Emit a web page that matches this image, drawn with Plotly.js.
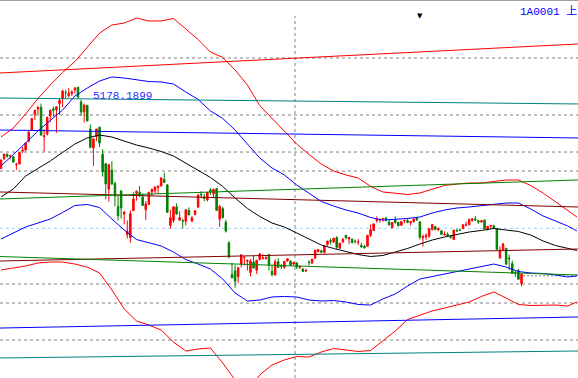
<!DOCTYPE html>
<html><head><meta charset="utf-8">
<script src="https://cdn.plot.ly/plotly-3.0.1.min.js"></script>
<style>html,body{margin:0;padding:0;background:#fff;overflow:hidden}#chart{width:578px;height:378px}</style>
</head><body><div id="chart"></div>
<script>
// Trading days (categories)
const dates = [
"2015-05-11","2015-05-12","2015-05-13","2015-05-14","2015-05-15","2015-05-18","2015-05-19","2015-05-20","2015-05-21","2015-05-22","2015-05-25","2015-05-26","2015-05-27","2015-05-28","2015-05-29",
"2015-06-01","2015-06-02","2015-06-03","2015-06-04","2015-06-05","2015-06-08","2015-06-09","2015-06-10","2015-06-11","2015-06-12","2015-06-15","2015-06-16","2015-06-17","2015-06-18","2015-06-19","2015-06-23","2015-06-24","2015-06-25","2015-06-26","2015-06-29","2015-06-30",
"2015-07-01","2015-07-02","2015-07-03","2015-07-06","2015-07-07","2015-07-08","2015-07-09","2015-07-10","2015-07-13","2015-07-14","2015-07-15","2015-07-16","2015-07-17","2015-07-20","2015-07-21","2015-07-22","2015-07-23","2015-07-24","2015-07-27","2015-07-28","2015-07-29","2015-07-30","2015-07-31",
"2015-08-03","2015-08-04","2015-08-05","2015-08-06","2015-08-07","2015-08-10","2015-08-11","2015-08-12","2015-08-13","2015-08-14","2015-08-17","2015-08-18","2015-08-19","2015-08-20","2015-08-21","2015-08-24","2015-08-25","2015-08-26","2015-08-27","2015-08-28","2015-08-31",
"2015-09-01","2015-09-02","2015-09-07","2015-09-08","2015-09-09","2015-09-10","2015-09-11","2015-09-14","2015-09-15","2015-09-16","2015-09-17","2015-09-18","2015-09-21","2015-09-22","2015-09-23","2015-09-24","2015-09-25","2015-09-28","2015-09-29","2015-09-30",
"2015-10-08","2015-10-09","2015-10-12","2015-10-13","2015-10-14","2015-10-15","2015-10-16","2015-10-19","2015-10-20","2015-10-21","2015-10-22","2015-10-23","2015-10-26","2015-10-27","2015-10-28","2015-10-29","2015-10-30",
"2015-11-02","2015-11-03","2015-11-04","2015-11-05","2015-11-06","2015-11-09","2015-11-10","2015-11-11","2015-11-12","2015-11-13","2015-11-16","2015-11-17","2015-11-18","2015-11-19","2015-11-20","2015-11-23","2015-11-24","2015-11-25","2015-11-26","2015-11-27","2015-11-30",
"2015-12-01","2015-12-02","2015-12-03","2015-12-04","2015-12-07","2015-12-08","2015-12-09","2015-12-10","2015-12-11","2015-12-14","2015-12-15","2015-12-16","2015-12-17","2015-12-18","2015-12-21","2015-12-22","2015-12-23","2015-12-24","2015-12-25","2015-12-28","2015-12-29","2015-12-30","2015-12-31",
"2016-01-04","2016-01-05","2016-01-06","2016-01-07","2016-01-08","2016-01-11","2016-01-12","2016-01-13","2016-01-14"];

const open = [4231,4347,4397,4378,4370,4277,4285,4434,4447,4550,4677,4854,4924,4943,4603,
4633,4844,4924,4913,4986,5046,5114,5076,5102,5144,5175,5004,4890,4966,4690,4471,4604,4711,4399,4289,3991,
4214,4058,3793,3975,3707,3467,3432,3744,3946,3957,3902,3756,3818,3961,3977,4012,4029,4107,4043,3574,3631,3788,3634,
3629,3621,3747,3624,3701,3786,3936,3903,3869,3985,3939,3999,3646,3768,3609,3373,3004,3047,2979,3125,3201,
3157,3028,3149,3054,3180,3191,3190,3237,3042,2998,3153,3108,3088,3162,3158,3125,3140,3086,3066,3044,
3145,3138,3194,3268,3279,3260,3351,3398,3380,3432,3310,3384,3459,3417,3416,3388,3379,
3342,3332,3332,3460,3514,3630,3634,3644,3661,3611,3545,3637,3607,3574,3625,3629,3603,3616,3659,3616,3431,
3442,3450,3525,3558,3525,3512,3462,3471,3443,3409,3518,3519,3536,3577,3581,3632,3648,3627,3614,3635,3528,3566,3570,
3536,3196,3291,3309,3195,3131,3023,3050,2900];

const high = [4334,4402,4410,4393,4372,4300,4418,4482,4530,4658,4814,4911,4958,4986,4690,
4829,4911,4951,4957,5052,5147,5147,5164,5142,5178.1899,5176,5029,4985,4966,4744,4577,4691,4720,4456,4297,4287,
4317,4080,3915,3975,3741,3631,3748,3959,3976,4030,3941,3855,3960,4000,4028,4041,4132,4184,4054,3757,3790,3828,3737,
3652,3757,3782,3684,3745,3929,3970,3938,3955,4006,3994,4006,3811,3790,3640,3389,3142,3112,3084,3233,3208,
3180,3183,3218,3174,3256,3243,3218,3238,3115,3182,3195,3127,3157,3192,3171,3151,3145,3103,3081,3073,
3172,3184,3289,3300,3292,3338,3395,3423,3426,3447,3370,3425,3461,3440,3417,3409,3416,
3372,3351,3460,3585,3596,3678,3654,3658,3661,3636,3607,3678,3617,3618,3640,3654,3617,3648,3668,3621,3470,
3483,3538,3585,3568,3550,3517,3505,3493,3454,3521,3530,3538,3583,3618,3652,3651,3684,3640,3632,3641,3563,3573,3580,
3538,3328,3362,3309,3235,3167,3045,3068,3011];

const low = [4228,4330,4360,4337,4298,4218,4285,4412,4443,4536,4677,4796,4861,4614,4431,
4615,4771,4834,4647,4856,4943,5049,5055,5071,5103,5048,4842,4767,4780,4467,4264,4552,4483,4139,3875,3848,
4043,3795,3629,3653,3585,3421,3373,3742,3860,3903,3797,3636,3811,3913,3949,3938,4029,4068,3720,3537,3601,3695,3629,
3537,3573,3690,3611,3688,3774,3885,3853,3852,3927,3888,3741,3558,3656,3491,3191,2964,2851,2906,3086,3109,
3053,2983,3075,3011,3168,3178,3176,3049,2983,2996,3083,3067,3070,3154,3100,3110,3068,3070,3033,3034,
3110,3128,3190,3265,3253,3250,3338,3355,3370,3301,3300,3368,3412,3357,3365,3363,3346,
3313,3301,3330,3437,3510,3605,3605,3617,3620,3573,3545,3596,3566,3574,3600,3600,3572,3607,3629,3412,3328,
3403,3427,3513,3518,3506,3462,3454,3452,3419,3407,3497,3507,3531,3562,3575,3617,3626,3590,3602,3532,3515,3538,3538,
3295,3189,3288,3115,3056,3016,2978,2949,2867];

const close = [4333,4401,4375,4378,4308,4283,4417,4446,4529,4657,4813,4910,4941,4620,4611,
4828,4910,4909,4947,5023,5131,5113,5106,5121,5166,5062,4887,4967,4785,4478,4577,4691,4528,4193,4054,4277,
4053,3913,3687,3776,3727,3507,3710,3878,3970,3925,3805,3823,3958,3993,4017,4027,4124,4071,3726,3663,3790,3705,3664,
3623,3756,3695,3661,3744,3928,3928,3887,3955,3965,3993,3748,3794,3664,3508,3210,2965,2927,3084,3233,3206,
3166,3160,3080,3170,3243,3197,3200,3114,3005,3152,3086,3097,3157,3186,3116,3143,3093,3101,3039,3053,
3144,3183,3288,3293,3263,3338,3392,3387,3426,3321,3369,3413,3430,3434,3375,3387,3383,
3326,3317,3460,3523,3590,3647,3640,3651,3633,3580,3607,3605,3568,3618,3630,3610,3616,3647,3636,3436,3445,
3456,3537,3585,3525,3537,3470,3472,3455,3435,3520,3511,3516,3581,3579,3643,3651,3637,3613,3628,3534,3563,3573,3539,
3296,3287,3361,3125,3186,3017,3022,2949,3007];

// Band lines, sampled (bar index -> price)
const bandIdx = [0,4,8,12,16,20,24,28,32,36,40,44,48,52,56,60,64,68,72,76,80,84,88,92,96,100,104,108,112,116,120,124,128,132,136,140,144,148,152,156,160,164,168,172,176,180,184,187];
const outerUpper = [4598,4702,4865,5044,5201,5346,5473,5641,5803,5896,5919,5977,5943,5943,5972,5850,5728,5583,5520,5375,5201,4963,4813,4668,4517,4395,4285,4204,4158,4123,4025,3961,3949,3932,3949,3990,4036,4053,4065,4065,4082,4100,4100,4036,3949,3845,3746,3671];
const innerUpper = [4262,4390,4529,4668,4784,4911,5073,5166,5247,5294,5282,5259,5241,5236,5212,5120,5033,4900,4813,4679,4517,4355,4239,4158,4042,3949,3851,3798,3752,3717,3665,3636,3642,3654,3671,3717,3752,3775,3787,3804,3816,3833,3833,3764,3683,3625,3567,3509];
const midLine = [3903,3996,4146,4233,4320,4419,4517,4587,4621,4598,4552,4505,4471,4430,4378,4297,4216,4129,4025,3891,3770,3677,3601,3555,3486,3416,3346,3306,3271,3236,3213,3225,3265,3306,3358,3404,3439,3468,3497,3515,3538,3520,3503,3462,3393,3341,3312,3283];
const innerLower = [3416,3486,3555,3601,3648,3723,3804,3816,3781,3648,3520,3410,3370,3335,3265,3178,3126,3068,2952,2790,2697,2709,2744,2750,2744,2709,2697,2703,2686,2657,2651,2721,2779,2871,2952,2981,3016,3045,3068,3097,3126,3091,3039,3022,3016,2999,2976,2987];
const outerLower = [3057,3080,3103,3138,3149,3149,3126,3091,3022,2825,2605,2466,2419,2361,2222,2118,2141,2153,1979,1782,1643,1840,1956,2014,2054,2048,2106,2147,2130,2112,2124,2234,2350,2483,2535,2582,2616,2651,2686,2750,2802,2732,2657,2645,2651,2651,2639,2686];

// Drawn trend lines: price at left edge, price at right edge
const trendStart = [5340,5050,4679,3961,3880,3161,3213,2384,2037];
const trendEnd   = [5676,4981,4587,3787,4100,3300,2999,2512,2118];
const trendColor = ['#ff0000','#008080','#0000ff','#800000','#008000','#800000','#008000','#0000ff','#008080'];

// Horizontal dashed levels
const gridLevels = [5514,4853,4424,4204,2894,2674,2245];
const refLevel = 3539;
const lastLevel = 2990;
const cursorPos = 95.45;

const xIdx = dates.map((d, i) => i);
const traces = [{
  type: 'candlestick', x: xIdx, open: open, high: high, low: low, close: close,
  increasing: {line: {color: '#ff0000', width: 1}, fillcolor: '#ff0000'},
  decreasing: {line: {color: '#008000', width: 1}, fillcolor: '#008000'},
  whiskerwidth: 0, hoverinfo: 'skip', showlegend: false
}];
const bands = [[outerUpper,'#ff0000'],[innerUpper,'#0000ff'],[midLine,'#000000'],[innerLower,'#0000ff'],[outerLower,'#ff0000']];
bands.forEach(b => traces.push({type:'scatter', mode:'lines', x: bandIdx, y: b[0], line:{color:b[1], width:1}, hoverinfo:'skip', showlegend:false, cliponaxis:true}));

const shapes = [];
gridLevels.forEach(v => shapes.push({type:'line', xref:'paper', x0:0, x1:1, yref:'y', y0:v, y1:v, layer:'below', line:{color:'#808080', width:1, dash:'3px,3px'}}));
shapes.push({type:'line', xref:'paper', x0:0, x1:1, yref:'y', y0:refLevel, y1:refLevel, layer:'below', line:{color:'#a6cff5', width:1, dash:'3px,3px'}});
shapes.push({type:'line', xref:'x', x0:169.5, x1:187.4, yref:'y', y0:lastLevel, y1:lastLevel, layer:'below', line:{color:'#808080', width:1, dash:'2px,2px'}});
shapes.push({type:'line', xref:'x', x0:cursorPos, x1:cursorPos, yref:'paper', y0:0, y1:1-16/378, layer:'below', line:{color:'#808080', width:1, dash:'3px,3px'}});
trendStart.forEach((v, k) => shapes.push({type:'line', xref:'paper', x0:0, x1:1, yref:'y', y0:v, y1:trendEnd[k], layer:'above', line:{color:trendColor[k], width:1}}));
shapes.push({type:'line', xref:'paper', x0:0, x1:1, yref:'paper', y0:1-0.5/378, y1:1-0.5/378, line:{color:'#a0a0a0', width:1}});

let maxH = -Infinity, maxI = 0;
high.forEach((h, i) => { if (h > maxH) { maxH = h; maxI = i; } });

const annotations = [
  {xref:'x', yref:'y', x:maxI, y:maxH, text:maxH.toFixed(4), showarrow:false, xanchor:'left', yanchor:'top', xshift:16, yshift:-1,
   font:{family:'Liberation Mono, DejaVu Sans Mono, monospace', size:11, color:'#2a2aff'}},
  {xref:'paper', yref:'paper', x:518/578, y:1-3/378, text:'1A0001 上', showarrow:false, xanchor:'left', yanchor:'top',
   font:{family:'Liberation Mono, Noto Sans CJK SC, monospace', size:11, color:'#0000ff'}},
  {xref:'paper', yref:'paper', x:420/578, y:1-16/378, text:'▼', showarrow:false, xanchor:'center', yanchor:'middle',
   font:{family:'DejaVu Sans', size:7, color:'#000000'}}
];

const layout = {
  width:578, height:378, margin:{l:0, r:0, t:0, b:0, pad:0},
  paper_bgcolor:'#ffffff', plot_bgcolor:'#ffffff', showlegend:false,
  xaxis:{range:[-0.325, 187.34], visible:false, rangeslider:{visible:false}, fixedrange:true},
  yaxis:{range:[1805, 6186], visible:false, fixedrange:true},
  shapes:shapes, annotations:annotations
};
Plotly.newPlot('chart', traces, layout, {staticPlot:true, displayModeBar:false});
</script>
</body></html>
